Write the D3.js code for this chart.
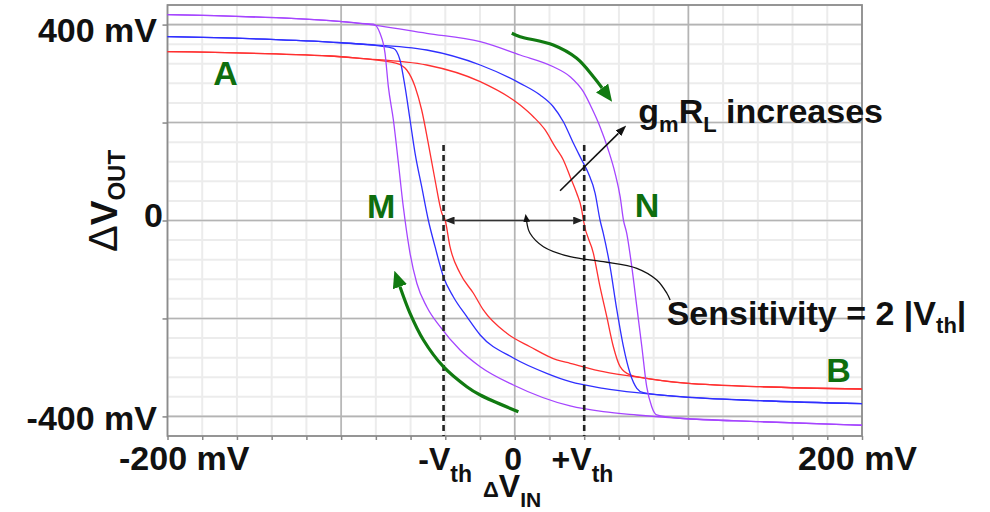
<!DOCTYPE html>
<html>
<head>
<meta charset="utf-8">
<script src="https://cdn.jsdelivr.net/npm/d3@7"></script>
<style>
  html, body { margin: 0; padding: 0; background: #fff; }
  svg { display: block; }
  text { font-family: "Liberation Sans", Arial, sans-serif; font-weight: bold; }
</style>
</head>
<body>
<svg id="chart" width="990" height="512"></svg>
<script>
// ---------------- data ----------------
// forward sweep (A -> N -> B) and reverse sweep (B -> M -> A), [ΔVin mV, ΔVout mV]
const redForward = [[-200,344.6],[-106.4,335.9],[-89.1,331.2],[-50.7,317.5],[-19.9,283.4],[3.1,235.8],[10.7,211.9],[17.5,184.8],[23.2,150.7],[28.0,123.5],[31.9,89.4],[35.7,55.5],[38.6,21.4],[39.5,1.0],[45.3,-67],[49.1,-135.2],[53.0,-196.4],[56.8,-257.7],[60.7,-298.5],[66.4,-315.4],[76.0,-322.2],[95.2,-331.2],[141.3,-339.3],[200,-344]];
const redReverse = [[-200,344.6],[-106.4,335.9],[-89.1,331.2],[-68.0,320.9],[-62.2,307.3],[-57.4,273.2],[-53.6,225.6],[-49.8,157.6],[-45.9,82.7],[-42.0,14.7],[-40.1,1.0],[-37.3,-53.5],[-31.5,-107.8],[-23.8,-148.6],[-18.1,-182.7],[-4.6,-230.3],[8.8,-257.7],[24.2,-284.8],[31.9,-291.5],[51.0,-308.7],[76.0,-322.2],[95.2,-331.2],[141.3,-339.3],[200,-344]];
const blueForward = [[-200,375.3],[-106.4,364.4],[-89.1,360.4],[-50.7,348.1],[-19.9,317.5],[3.1,280.1],[14.6,256.2],[22.2,232.3],[28.0,201.7],[33.8,157.6],[38.6,123.5],[42.4,96.4],[46.3,55.5],[49.1,1.0],[51.0,-26.1],[54.9,-94.3],[58.8,-182.7],[62.6,-257.7],[66.4,-312],[70.3,-342.6],[74.1,-351.6],[95.2,-359.7],[141.3,-367.9],[200,-374]];
const blueReverse = [[-200,375.3],[-106.4,364.4],[-89.1,360.4],[-69.9,351.6],[-66.1,327.7],[-63.2,273.2],[-60.3,205.2],[-57.4,137.2],[-53.6,69],[-49.8,1.0],[-45.9,-53.5],[-41.1,-114.7],[-35.4,-155.6],[-27.6,-196.4],[-19.9,-233.8],[-0.8,-280.7],[18.4,-312],[31.9,-329.1],[51.0,-342.6],[70.3,-351.6],[95.2,-359.7],[141.3,-367.9],[200,-374]];
const purpleForward = [[-200,420.2],[-106.4,407.9],[-89.1,402.6],[-50.7,382.2],[-19.9,365.0],[3.1,337.9],[22.2,314.0],[31.9,293.6],[39.5,263.0],[44.4,229.1],[49.1,191.5],[53.9,143.9],[57.8,96.4],[60.7,48.6],[62.6,1.0],[64.5,-26.1],[67.4,-94.3],[70.3,-176],[73.2,-257.7],[76.0,-339.3],[78.9,-380.2],[81.8,-397.1],[95.2,-403.8],[141.3,-410.8],[200,-418.1]];
const purpleReverse = [[-200,420.2],[-106.4,407.9],[-89.1,402.6],[-81.4,401],[-77.6,382.2],[-74.7,341.4],[-72.8,273.2],[-69.9,205.2],[-67.0,116.8],[-64.2,28.2],[-63.2,1.0],[-60.3,-67],[-56.4,-128.2],[-50.7,-176],[-43.0,-216.8],[-31.5,-264.4],[-19.9,-298.5],[-0.8,-335.9],[31.9,-378.7],[51.0,-390.4],[70.3,-397.1],[95.2,-403.8],[141.3,-410.8],[200,-418.1]];

const xTickValues = [-200, 200];
const xTickLabels = ["-200 mV", "200 mV"];
const yTickValues = [400, 0, -400];
const yTickLabels = ["400 mV", "0", "-400 mV"];
const vthNeg = -41, vthPos = 40;

// annotation paths (data coordinates)
const greenArrowTop = [[-1.7,382.2],[3.1,375.3],[22.2,358.3],[35.7,331.2],[45.3,293.6],[50.3,270.5]];
const greenArrowBottom = [[2.1,-390.4],[-19.9,-356.3],[-27.6,-339.3],[-41.1,-298.5],[-52.6,-244],[-60.3,-189.5],[-66.1,-135.2]];
const sensitivityArrow = [[89.5,-162.3],[87.6,-148.6],[81.8,-121.5],[70.3,-97.6],[51.0,-84.1],[31.9,-73.9],[16.5,-53.5],[8.8,-26.1],[6.9,-3.1]];
const gmArrow = [[26.1,60.8],[59.7,178.0]];

// ---------------- chart ----------------
const svg = d3.select("#chart");
const x = d3.scaleLinear().domain([-200, 200]).range([167.5, 862]);
const y = d3.scaleLinear().domain([-440, 440]).range([436, 5]);

const defs = svg.append("defs");
function marker(id, color, len, wid) {
  defs.append("marker").attr("id", id)
    .attr("markerUnits", "userSpaceOnUse")
    .attr("viewBox", `0 0 ${len} ${wid}`)
    .attr("markerWidth", len).attr("markerHeight", wid)
    .attr("refX", 0).attr("refY", wid / 2)
    .attr("orient", "auto-start-reverse")
    .append("path").attr("d", `M0,0L${len},${wid/2}L0,${wid}Z`).attr("fill", color);
}
marker("greenHead", "#117a11", 17, 15);
marker("blackHead", "#111", 11, 8);
marker("greyHead", "#222", 10, 8);
marker("smallHead", "#111", 8, 7);

// grid
const minorX = x.ticks(20);
const minorY = d3.range(-440, 441, 40);
const majorX = [-100, 0, 100];
const majorY = [-400, -200, 0, 200, 400];
const g = svg.append("g");
g.selectAll(".mx").data(minorX).join("line")
  .attr("x1", d => x(d)).attr("x2", d => x(d)).attr("y1", y(440)).attr("y2", y(-440))
  .attr("stroke", "#ececec").attr("stroke-width", 2);
g.selectAll(".my").data(minorY).join("line")
  .attr("x1", x(-200)).attr("x2", x(200)).attr("y1", d => y(d)).attr("y2", d => y(d))
  .attr("stroke", "#ececec").attr("stroke-width", 2);
g.selectAll(".Mx").data(majorX).join("line")
  .attr("x1", d => x(d)).attr("x2", d => x(d)).attr("y1", y(440)).attr("y2", y(-440))
  .attr("stroke", "#b4b4b4").attr("stroke-width", 1.6);
g.selectAll(".My").data(majorY).join("line")
  .attr("x1", x(-200)).attr("x2", x(200)).attr("y1", d => y(d)).attr("y2", d => y(d))
  .attr("stroke", "#b4b4b4").attr("stroke-width", 1.6);

// frame
svg.append("rect").attr("x", x(-200)).attr("y", y(440))
  .attr("width", x(200) - x(-200)).attr("height", y(-440) - y(440))
  .attr("fill", "none").attr("stroke", "#8c8c8c").attr("stroke-width", 1.8);

// axes ticks
const xAxis = svg.append("g").attr("transform", `translate(0,${y(-440)})`)
  .call(d3.axisBottom(x).tickValues(minorX).tickSize(4).tickFormat(""));
const yAxis = svg.append("g").attr("transform", `translate(${x(-200)},0)`)
  .call(d3.axisLeft(y).tickValues(majorY).tickSize(5).tickFormat(""));
[xAxis, yAxis].forEach(a => {
  a.select(".domain").remove();
  a.selectAll("line").attr("stroke", "#888").attr("stroke-width", 1.5);
});

// curves
const line = d3.line().x(d => x(d[0])).y(d => y(d[1])).curve(d3.curveMonotoneX);
const series = [
  {d: redForward, c: "#ff3030"}, {d: redReverse, c: "#ff3030"},
  {d: blueForward, c: "#2f2fff"}, {d: blueReverse, c: "#2f2fff"},
  {d: purpleForward, c: "#a545ff"}, {d: purpleReverse, c: "#a545ff"}
];
svg.append("g").selectAll("path").data(series).join("path")
  .attr("d", s => line(s.d)).attr("fill", "none")
  .attr("stroke", s => s.c).attr("stroke-width", 1.3);

// Vth dashed lines
svg.append("g").selectAll("line").data([vthNeg, vthPos]).join("line")
  .attr("x1", d => x(d)).attr("x2", d => x(d))
  .attr("y1", 145).attr("y2", y(-440))
  .attr("stroke", "#222").attr("stroke-width", 2.6).attr("stroke-dasharray", "6,4");

// double arrow
svg.append("line")
  .attr("x1", x(vthNeg) + 11).attr("x2", x(vthPos) - 11)
  .attr("y1", y(0)).attr("y2", y(0))
  .attr("stroke", "#333").attr("stroke-width", 1.6)
  .attr("marker-start", "url(#greyHead)").attr("marker-end", "url(#greyHead)");

// annotation arrows
const smooth = d3.line().x(d => x(d[0])).y(d => y(d[1])).curve(d3.curveCatmullRom);
svg.append("path").attr("d", smooth(greenArrowTop)).attr("fill", "none")
  .attr("stroke", "#117a11").attr("stroke-width", 3.2).attr("marker-end", "url(#greenHead)");
svg.append("path").attr("d", smooth(greenArrowBottom)).attr("fill", "none")
  .attr("stroke", "#117a11").attr("stroke-width", 3.2).attr("marker-end", "url(#greenHead)");
svg.append("path").attr("d", smooth(sensitivityArrow)).attr("fill", "none")
  .attr("stroke", "#111").attr("stroke-width", 1.3).attr("marker-end", "url(#smallHead)");
svg.append("path").attr("d", d3.line().x(d => x(d[0])).y(d => y(d[1]))(gmArrow)).attr("fill", "none")
  .attr("stroke", "#111").attr("stroke-width", 1.6).attr("marker-end", "url(#blackHead)");

// ---------------- text ----------------
const T = svg.append("g").attr("fill", "#111");
// y tick labels
const yLabOff = [[157 - x(-200), 17], [163 - x(-200), 6], [157 - x(-200), 13.6]];
yTickValues.forEach((v, i) => {
  T.append("text").attr("x", x(-200) + yLabOff[i][0]).attr("y", y(v) + yLabOff[i][1])
    .attr("text-anchor", "end").attr("font-size", 34).text(yTickLabels[i]);
});
// x tick labels
const xLabOff = [16.7, -4.5];
xTickValues.forEach((v, i) => {
  T.append("text").attr("x", x(v) + xLabOff[i]).attr("y", 470)
    .attr("text-anchor", "middle").attr("font-size", 34).text(xTickLabels[i]);
});
// -Vth, 0, +Vth
function vthText(x0, sign) {
  const t = T.append("text").attr("x", x0).attr("y", 470).attr("font-size", 32);
  t.append("tspan").text(sign + "V");
  t.append("tspan").attr("font-size", 23).attr("dy", 12).text("th");
}
vthText(x(vthNeg) - 25.3, "-");
vthText(x(vthPos) - 32.6, "+");
T.append("text").attr("x", x(0) - 1.5).attr("y", 470).attr("text-anchor", "middle")
  .attr("font-size", 32).text("0");
const vin = T.append("text").attr("x", 483).attr("y", 497).attr("font-size", 32);
vin.append("tspan").attr("font-size", 22).text("Δ");
vin.append("tspan").text("V");
vin.append("tspan").attr("font-size", 21).attr("dy", 9.5).text("IN");

// y axis title
const yt = T.append("text").attr("transform", "translate(117,252) rotate(-90)").attr("font-size", 37);
yt.append("tspan").attr("font-size", 40).attr("font-weight", "normal").text("Δ");
yt.append("tspan").text("V");
yt.append("tspan").attr("font-size", 24).attr("dy", 8).text("OUT");

// gmRL increases
const gm = T.append("text").attr("x", 638.3).attr("y", 123.3).attr("font-size", 34);
gm.append("tspan").text("g");
gm.append("tspan").attr("font-size", 22).attr("dy", 8.4).text("m");
gm.append("tspan").attr("dy", -8.4).text("R");
gm.append("tspan").attr("font-size", 22).attr("dy", 8.4).text("L");
gm.append("tspan").attr("dy", -8.4).text(" increases");

// Sensitivity
const se = T.append("text").attr("x", 666.7).attr("y", 325).attr("font-size", 34);
se.append("tspan").text("Sensitivity = 2 |V");
se.append("tspan").attr("font-size", 22).attr("dy", 8).text("th");
se.append("tspan").attr("dy", -8).text("|");

// green letters (anchored at data coordinates of their baseline centre)
const greenLabels = [["A", -166.6, 276.5], ["M", -76.9, 4.5], ["N", 76.2, 7], ["B", 186.5, -329]];
svg.append("g").selectAll("text").data(greenLabels).join("text")
  .attr("x", d => x(d[1])).attr("y", d => y(d[2]))
  .attr("text-anchor", "middle").attr("font-size", 34).attr("fill", "#0e6e0e")
  .text(d => d[0]);
</script>
</body>
</html>
